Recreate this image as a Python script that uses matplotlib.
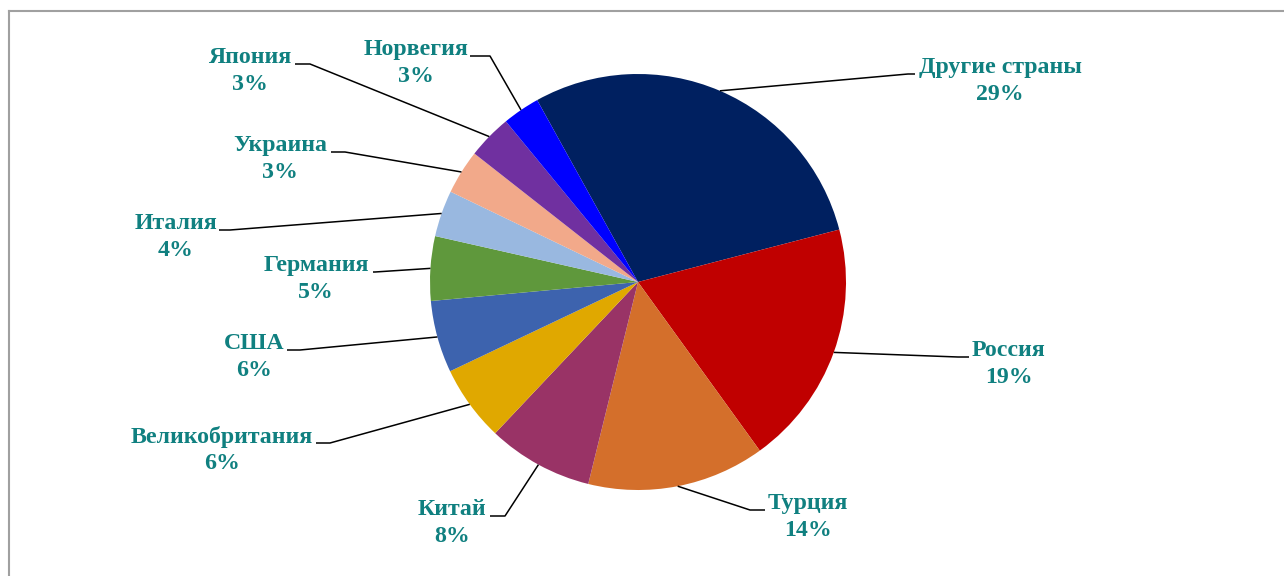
import numpy as np
import matplotlib
matplotlib.use("Agg")
import matplotlib.pyplot as plt
from matplotlib.lines import Line2D

# —— данные ——
countries = ["Другие страны", "Россия", "Турция", "Китай", "Великобритания",
             "США", "Германия", "Италия", "Украина", "Япония", "Норвегия"]
shares = [29.0, 19.1, 13.8, 8.2, 5.9, 5.6, 5.0, 3.6, 3.45, 3.45, 2.9]
colors = ["#002060", "#C00000", "#D46F2B", "#993366", "#E0A800",
          "#3D63AE", "#5F983C", "#99B8E0", "#F2A98A", "#7030A0", "#0000FF"]

# —— раскладка подписей (пиксели): центр текста, сторона, x излома ——
W, H = 1284, 576
CX, CY, R = 638, 282, 208
label_layout = [
    (1000, 81, "right", 908),
    (1009, 364, "right", 958),
    (808, 517, "right", 750),
    (452, 523, "left", 505),
    (222, 450, "left", 330),
    (254, 357, "left", 300),
    (316, 279, "left", 375),
    (176, 237, "left", 230),
    (280, 159, "left", 345),
    (250, 71, "left", 310),
    (416, 63, "left", 490),
]
text_half = [82, 37, 40, 35, 91, 30, 54, 40, 48, 42, 51]


def px(x, y):
    return (x - CX) / R, (CY - y) / R


fig = plt.figure(figsize=(W / 100, H / 100), dpi=100)
ax = fig.add_axes([0, 0, 1, 1])
wedges, _ = ax.pie(shares, colors=colors, startangle=119, counterclock=False,
                   radius=1, center=(0, 0), frame=False,
                   wedgeprops=dict(linewidth=0, edgecolor="none"))
ax.set_xlim(-CX / R, (W - CX) / R)
ax.set_ylim(-(H - CY) / R, CY / R)
ax.set_aspect("auto")
ax.axis("off")

teal = "#108080"
for w, name, v, (tx, ty, side, ex), hw in zip(wedges, countries, shares,
                                              label_layout, text_half):
    mid = np.deg2rad((w.theta1 + w.theta2) / 2)
    ax0, ay0 = np.cos(mid), np.sin(mid)
    ly = ty - 7
    if side == "right":
        end_x = tx - hw - 3
    else:
        end_x = tx + hw + 3
    e = px(ex, ly)
    t = px(end_x, ly)
    ax.plot([ax0, e[0], t[0]], [ay0, e[1], t[1]], color="black", lw=1.1,
            solid_capstyle="butt")
    cx_, cy_ = px(tx, ty)
    ax.text(cx_, cy_, f"{name}\n{v:.0f}%", ha="center", va="center",
            color=teal, fontsize=17.2, fontweight="bold",
            family="Liberation Serif", linespacing=1.35)

# рамка области диаграммы
fx0, fy0 = 8.5 / W, 1 - 10.5 / H
fig.add_artist(Line2D([fx0, fx0], [-0.1, fy0], color="#A0A0A0", lw=1.5))
fig.add_artist(Line2D([fx0, 1.1], [fy0, fy0], color="#A0A0A0", lw=1.5))

fig.savefig("out.png", dpi=100, facecolor="white")
